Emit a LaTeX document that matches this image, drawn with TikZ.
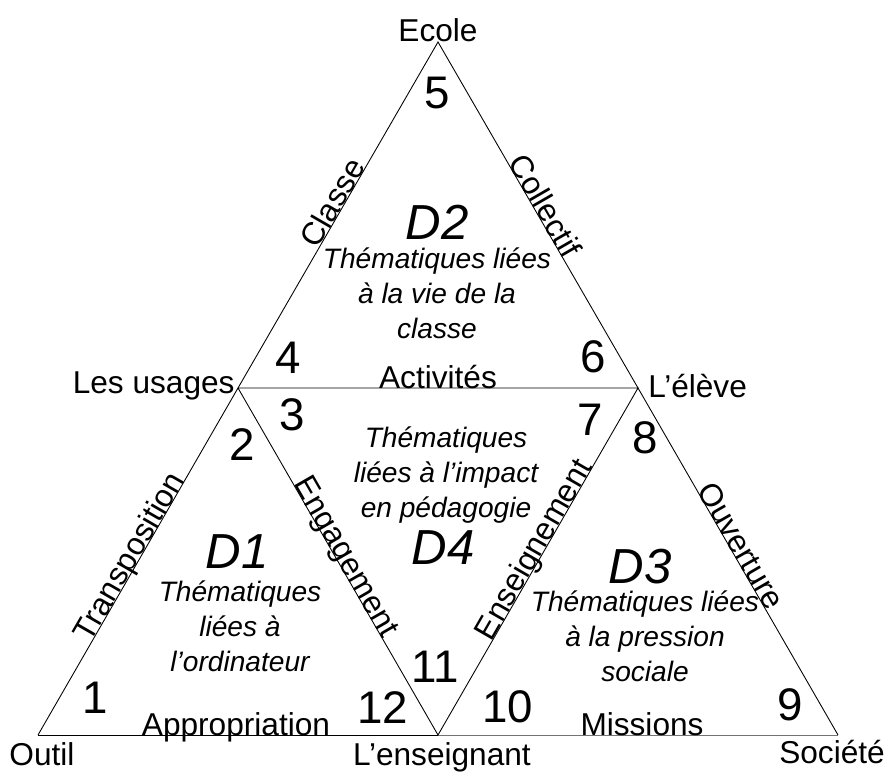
\documentclass[tikz,border=0pt]{standalone}
\usepackage{fontspec}
\setmainfont{Liberation Sans}
\usetikzlibrary{positioning}

\begin{document}
\begin{tikzpicture}[x=0.02cm,y=0.02cm,line width=0.5pt,
    vertice/.style={font=\fontsize{18}{21}\selectfont, inner sep=0pt},
    lato/.style={font=\fontsize{18}{21}\selectfont, sloped, anchor=base, inner sep=0pt},
    numero/.style={font=\fontsize{26}{30}\selectfont, inner sep=0pt},
    dominio/.style={font=\itshape\fontsize{28}{30}\selectfont, inner sep=0pt},
    tema/.style={font=\itshape\fontsize{16}{20}\selectfont, align=center, inner sep=0pt}]
    \useasboundingbox (0,0) rectangle (889,772);
    % I vertici dei triangoli
    \coordinate (outil) at (38,37);
    \coordinate (enseignant) at (438,37);
    \coordinate (societe) at (838,37);
    \coordinate (usages) at (238,384);
    \coordinate (eleve) at (638,384);
    \coordinate (ecole) at (438,730);
    % Disegna i lati
    \draw (outil) -- (enseignant);
    \draw[black!55] (enseignant) -- (societe);
    \draw (societe) -- (eleve) -- (ecole) -- (usages) -- (outil);
    \draw (usages) -- (eleve) -- (enseignant) -- (usages);
    % Le etichette sui lati
    \path (usages) -- (ecole) node[lato, pos=0.52] (lClasse) {Classe};
    \path (ecole) -- (eleve) node[lato, pos=0.49] (lCollectif) {Collectif};
    \path (usages) -- (eleve) node[lato, pos=0.5] (lActivites) {Activités};
    \path (outil) -- (usages) node[lato, pos=0.5] (lTransposition) {Transposition};
    \path (usages) -- (enseignant) node[lato, pos=0.5] (lEngagement) {Engagement};
    \path (enseignant) -- (eleve) node[lato, pos=0.52] (lEnseignement) {Enseignement};
    \path (eleve) -- (societe) node[lato, pos=0.47] (lOuverture) {Ouverture};
    \path (outil) -- (enseignant) node[lato, pos=0.495] (lAppropriation) {Appropriation};
    \path (enseignant) -- (societe) node[lato, pos=0.51] (lMissions) {Missions};
    % Le etichette dei vertici
    \node[vertice, anchor=south] (tEcole) at (ecole) {Ecole};
    \node[vertice, anchor=base east, xshift=-0.06cm, yshift=-0.1cm] (tUsages) at (usages) {Les usages};
    \node[vertice, anchor=base west, xshift=0.2cm, yshift=-0.2cm] (tEleve) at (eleve) {L’élève};
    \node[vertice, anchor=north] (tOutil) at (42,30) {Outil};
    \node[vertice, anchor=north] (tEnseignant) at (442,30) {L’enseignant};
    \node[vertice, anchor=north] (tSociete) at (832,32) {Société};
    % I numeri
    \node[numero] (n1) at (95,74) {1};
    \node[numero] (n2) at (242,327) {2};
    \node[numero] (n3) at (292,357) {3};
    \node[numero] (n4) at (288,414) {4};
    \node[numero] (n5) at (437,679) {5};
    \node[numero] (n6) at (593,415) {6};
    \node[numero] (n7) at (590,352) {7};
    \node[numero] (n8) at (645,334) {8};
    \node[numero] (n9) at (790,67) {9};
    \node[numero] (n10) at (508,65) {10};
    \node[numero] (n11) at (435,105) {11};
    \node[numero] (n12) at (383,64) {12};
    % I domini con le tematiche
    \node[dominio] (d1) at (237,220) {D1};
    \node[tema] (t1) at (240,146) {Thématiques\\liées à\\l’ordinateur};
    \node[dominio] (d2) at (437,550) {D2};
    \node[tema] (t2) at (437,479) {Thématiques liées\\à la vie de la\\classe};
    \node[dominio] (d3) at (640,205) {D3};
    \node[tema] (t3) at (645,136) {Thématiques liées\\à la pression\\sociale};
    \node[dominio] (d4) at (443,224) {D4};
    \node[tema] (t4) at (446,297) {Thématiques\\liées à l’impact\\en pédagogie};
\end{tikzpicture}
\end{document}
